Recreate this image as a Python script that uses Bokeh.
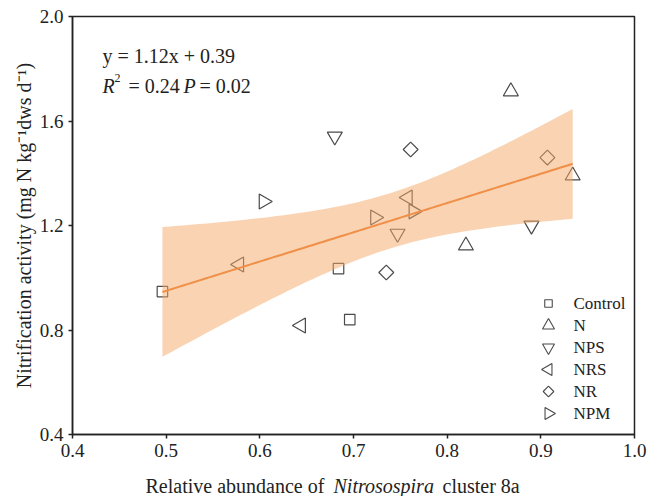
import numpy as np
from bokeh.plotting import figure
from bokeh.layouts import column
from bokeh.models import Label, FixedTicker, Range1d
from bokeh.embed import file_html
from bokeh.resources import INLINE

# ---- data ----
groups = ["Control", "N", "NPS", "NRS", "NR", "NPM"]
control_x = [0.496, 0.684, 0.696]
control_y = [0.947, 1.035, 0.840]
n_x = [0.868, 0.934, 0.820]
n_y = [1.713, 1.391, 1.123]
nps_x = [0.680, 0.747, 0.890]
nps_y = [1.541, 1.169, 1.200]
nrs_x = [0.578, 0.644, 0.758]
nrs_y = [1.051, 0.817, 1.307]
nr_x = [0.761, 0.907, 0.735]
nr_y = [1.491, 1.460, 1.020]
npm_x = [0.604, 0.723, 0.764]
npm_y = [1.292, 1.231, 1.254]

reg_slope = 1.12
reg_intercept = 0.39
r_squared = 0.24
p_value = 0.02
t_crit = 2.12  # t(0.975, df = 16)

x_ticks = [0.4, 0.5, 0.6, 0.7, 0.8, 0.9, 1.0]
y_ticks = [0.4, 0.8, 1.2, 1.6, 2.0]

FONT = "Liberation Serif"
MC = "#4a4a4a"
TXT = "#222222"

FRAME_W, FRAME_H = 562, 418

p = figure(width=647, height=466, x_range=(0.4, 1.0), y_range=(0.4, 2.0),
           output_backend="svg", toolbar_location=None,
           min_border_left=72, min_border_right=13, min_border_top=16, min_border_bottom=32)
p.extra_x_ranges = {"px": Range1d(0, FRAME_W)}
p.extra_y_ranges = {"px": Range1d(0, FRAME_H)}
p.background_fill_color = "white"
p.border_fill_color = "white"
p.xgrid.visible = False
p.ygrid.visible = False
p.outline_line_color = TXT
p.outline_line_width = 1.5

for ax in (p.xaxis[0], p.yaxis[0]):
    ax.axis_line_color = TXT
    ax.axis_line_width = 1.5
    ax.major_tick_line_color = TXT
    ax.major_tick_line_width = 1.5
    ax.major_tick_in = 0
    ax.major_tick_out = 4
    ax.minor_tick_line_color = None
    ax.major_label_text_font = FONT
    ax.major_label_text_font_size = "19px"
    ax.major_label_text_color = TXT
    ax.major_label_standoff = 5

p.xaxis.ticker = FixedTicker(ticks=x_ticks)
p.yaxis.ticker = FixedTicker(ticks=y_ticks)
p.xaxis.major_label_overrides = {t: f"{t:.1f}" for t in x_ticks}
p.yaxis.major_label_overrides = {t: f"{t:.1f}" for t in y_ticks}

p.yaxis.axis_label = "Nitrification activity (mg N kg\u207b\u00b9dws d\u207b\u00b9)"
p.yaxis.axis_label_text_font = FONT
p.yaxis.axis_label_text_font_size = "20px"
p.yaxis.axis_label_text_font_style = "normal"
p.yaxis.axis_label_text_color = TXT
p.yaxis.axis_label_standoff = 2

# ---- scatter points ----
specs = [
    ("Control", control_x, control_y, "square", 0.0, 10.5, 7.5),
    ("N", n_x, n_y, "triangle", 0.0, 15, 12),
    ("NPS", nps_x, nps_y, "inverted_triangle", 0.0, 15, 12),
    ("NRS", nrs_x, nrs_y, "triangle", np.pi / 2, 15, 12),
    ("NR", nr_x, nr_y, "square", np.pi / 4, 10.5, 7.5),
    ("NPM", npm_x, npm_y, "triangle", -np.pi / 2, 15, 12),
]
for name, xs, ys, mk, ang, sz, _ in specs:
    p.scatter(xs, ys, marker=mk, angle=ang, size=sz, fill_color=None,
              line_color=MC, line_width=1.2)

# ---- regression line and its 95% confidence band ----
all_x = np.array(control_x + n_x + nps_x + nrs_x + nr_x + npm_x)
all_y = np.array(control_y + n_y + nps_y + nrs_y + nr_y + npm_y)
n = len(all_x)
resid = all_y - (reg_slope * all_x + reg_intercept)
s = np.sqrt(np.sum(resid ** 2) / (n - 2))
xbar = all_x.mean()
sxx = np.sum((all_x - xbar) ** 2)
gx = np.linspace(all_x.min(), all_x.max(), 80)
gy = reg_slope * gx + reg_intercept
hw = t_crit * s * np.sqrt(1.0 / n + (gx - xbar) ** 2 / sxx)
p.varea(x=gx, y1=gy - hw, y2=gy + hw, fill_color="#F3A865", fill_alpha=0.5)
p.line(gx, gy, line_color="#F08F48", line_width=2)

# ---- legend (keys drawn in frame pixel space so they can be rotated) ----
key_x = 476
key_top = 131
key_step = 22
for i, (name, xs, ys, mk, ang, _, ksz) in enumerate(specs):
    ky = key_top - i * key_step
    p.scatter([key_x], [ky], marker=mk, angle=ang, size=ksz, fill_color=None,
              line_color=MC, line_width=1.1, x_range_name="px", y_range_name="px")
    p.add_layout(Label(x=key_x + 25, y=ky, x_units="screen", y_units="screen", text=name,
                       text_font=FONT, text_font_size="17px", text_color=TXT,
                       text_align="left", text_baseline="middle"))

# ---- equation text ----
def lab(fig, text, x, y, size="20px", style="normal", baseline="middle"):
    fig.add_layout(Label(x=x, y=y, x_units="screen", y_units="screen", text=text,
                         text_font=FONT, text_font_size=size, text_font_style=style,
                         text_color=TXT, text_align="left", text_baseline=baseline))

lab(p, f"y = {reg_slope:.2f}x + {reg_intercept:.2f}", 30, 379)
lab(p, "R", 30, 349, style="italic")
lab(p, "2", 42, 357, size="12px")
lab(p, f"= {r_squared:.2f}", 56, 349)
lab(p, "P", 111, 349, style="italic")
lab(p, f"= {p_value:.2f}", 127, 349)

# ---- x axis title (mixed roman / italic) in a strip below ----
# (the column aligns this strip's frame with the main frame, so x is frame-relative)
p2 = figure(width=647, height=30, x_range=(0, 1), y_range=(0, 1),
            x_axis_type=None, y_axis_type=None, output_backend="svg",
            toolbar_location=None, min_border=0)
p2.min_border_left = p2.min_border_right = p2.min_border_top = p2.min_border_bottom = 0
p2.outline_line_color = None
p2.xgrid.visible = False
p2.ygrid.visible = False
p2.background_fill_color = "white"
p2.border_fill_color = "white"
lab(p2, "Relative abundance of", 73, 11, size="20px", baseline="alphabetic")
lab(p2, "Nitrosospira", 261, 11, size="20px", style="italic", baseline="alphabetic")
lab(p2, "cluster 8a", 370, 11, size="20px", baseline="alphabetic")

layout = column(p, p2, spacing=0)
open("out.html", "w").write(file_html(layout, INLINE))
